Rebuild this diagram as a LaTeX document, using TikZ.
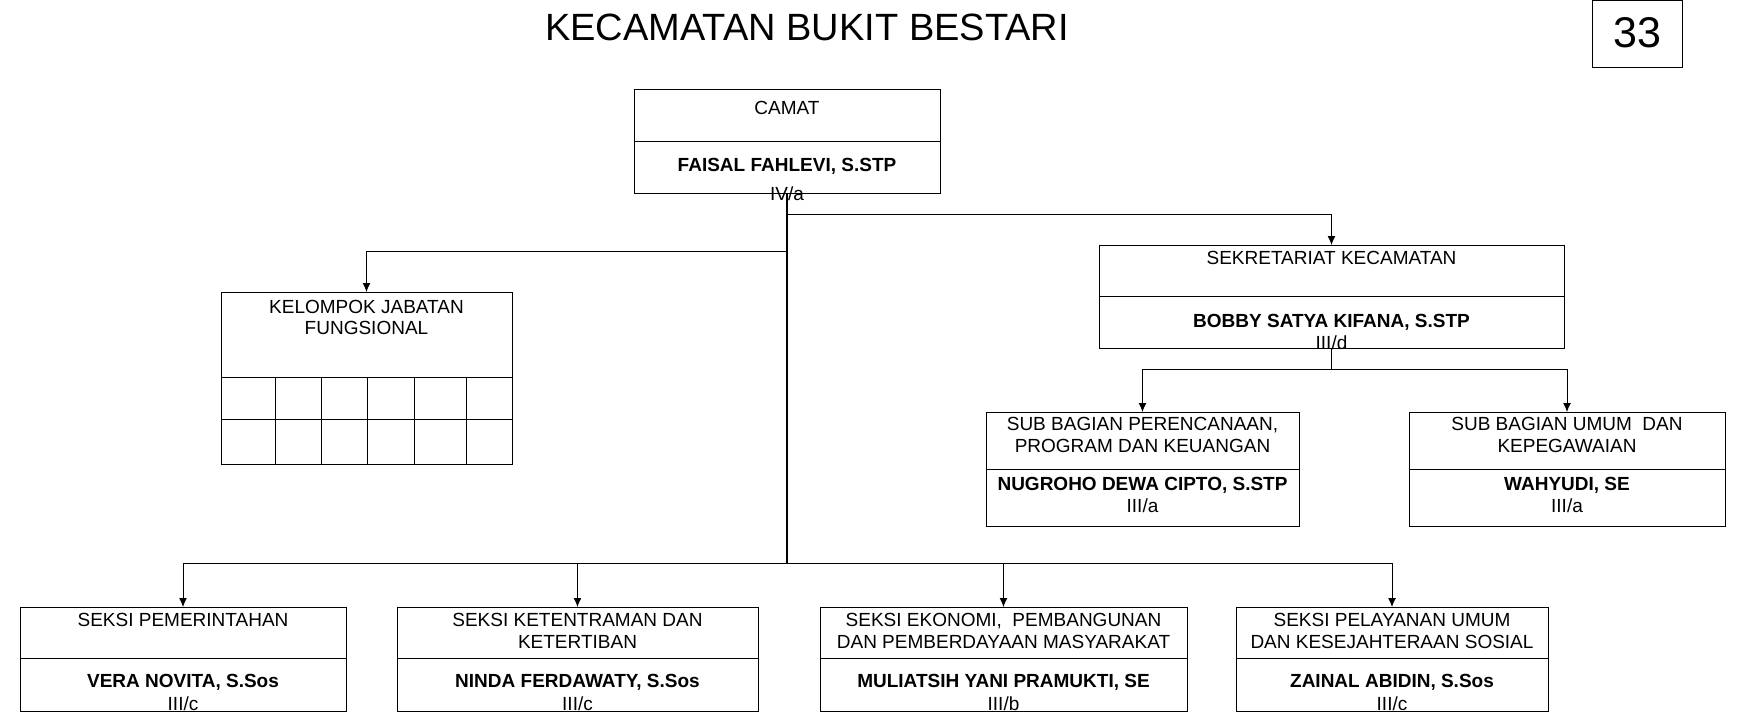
\documentclass[tikz,border=0pt]{standalone}
\usepackage{fontspec}
\setmainfont{Liberation Sans}
\usetikzlibrary{positioning,arrows.meta}
\begin{document}
\begin{tikzpicture}[x=1pt,y=-1pt,
    kotak/.style={draw,line width=1pt,inner sep=0pt,outer sep=0pt,anchor=north west},
    teks/.style={font=\fontsize{19}{21.5}\selectfont,inner sep=0pt,anchor=base,align=center},
    nama/.style={teks,font=\fontsize{19}{21.5}\selectfont\bfseries},
    garis/.style={line width=1pt},
    panah/.style={garis,-{Latex[length=9pt,width=8pt]}}]
\useasboundingbox (0,0) rectangle (1740,728);
\node [font=\fontsize{38}{40}\selectfont,inner sep=0pt,anchor=base] (judul) at (807,40) {KECAMATAN BUKIT BESTARI};
\node [kotak,minimum width=90pt,minimum height=67pt] (hal) at (1592,0.5) {};
\node [font=\fontsize{43}{45}\selectfont,inner sep=0pt,anchor=base] (nohal) at (1637,47) {33};
% camat
\node [kotak,minimum width=306pt,minimum height=52pt] (camat) at (634,89) {};
\node [kotak,minimum width=306pt,minimum height=52pt,below=0pt of camat] (camatnm) {};
\node [teks] (tcamat) at (787,114) {CAMAT};
\node [nama] (ncamat) at (787,171.5) {FAISAL FAHLEVI, S.STP};
\node [teks] (gcamat) at (787,200) {IV/a};
% jabatan fungsional
\node [kotak,minimum width=291pt,minimum height=85pt] (jafung) at (221,292) {};
\node [teks] (tjafung) at (366.5,334.5) {KELOMPOK JABATAN\\FUNGSIONAL};
\draw [garis] (jafung.south west) rectangle ++(291,87);
\draw [garis] ([yshift=-42pt]jafung.south west) -- ++(291,0);
\foreach \x in {54,100,146,193,245}
    \draw [garis] ([xshift=\x pt]jafung.south west) -- ++(0,87);
% sekretariat
\node [kotak,minimum width=465pt,minimum height=51pt] (sekcam) at (1099,245) {};
\node [kotak,minimum width=465pt,minimum height=52pt,below=0pt of sekcam] (sekcamnm) {};
\node [teks] (tsekcam) at (1331.5,264) {SEKRETARIAT KECAMATAN};
\node [nama] (nsekcam) at (1331.5,327.5) {BOBBY SATYA KIFANA, S.STP};
\node [teks] (gsekcam) at (1331.5,349.5) {III/d};
% sub bagian
\node [kotak,minimum width=313pt,minimum height=57pt] (subprog) at (986,412) {};
\node [kotak,minimum width=313pt,minimum height=57pt,below=0pt of subprog] (subprognm) {};
\node [teks] (tsubprog) at (1142.5,452) {SUB BAGIAN PERENCANAAN,\\PROGRAM DAN KEUANGAN};
\node [nama] (nsubprog) at (1142.5,490.5) {NUGROHO DEWA CIPTO, S.STP};
\node [teks] (gsubprog) at (1142.5,512.5) {III/a};
\node [kotak,minimum width=316pt,minimum height=57pt] (subumum) at (1409,412) {};
\node [kotak,minimum width=316pt,minimum height=57pt,below=0pt of subumum] (subumumnm) {};
\node [teks] (tsubumum) at (1567,452) {SUB BAGIAN UMUM~ DAN\\KEPEGAWAIAN};
\node [nama] (nsubumum) at (1567,490.5) {WAHYUDI, SE};
\node [teks] (gsubumum) at (1567,512.5) {III/a};
% seksi
\node [kotak,minimum width=326pt,minimum height=51pt] (pem) at (20,607) {};
\node [kotak,minimum width=326pt,minimum height=53pt,below=0pt of pem] (pemnm) {};
\node [teks] (tpem) at (183,626.5) {SEKSI PEMERINTAHAN};
\node [nama] (npem) at (183,687.5) {VERA NOVITA, S.Sos};
\node [teks] (gpem) at (183,710.5) {III/c};
\node [kotak,minimum width=361pt,minimum height=51pt] (trantib) at (397,607) {};
\node [kotak,minimum width=361pt,minimum height=53pt,below=0pt of trantib] (trantibnm) {};
\node [teks] (ttrantib) at (577.5,648) {SEKSI KETENTRAMAN DAN\\KETERTIBAN};
\node [nama] (ntrantib) at (577.5,687.5) {NINDA FERDAWATY, S.Sos};
\node [teks] (gtrantib) at (577.5,710.5) {III/c};
\node [kotak,minimum width=367pt,minimum height=51pt] (ekbang) at (820,607) {};
\node [kotak,minimum width=367pt,minimum height=53pt,below=0pt of ekbang] (ekbangnm) {};
\node [teks] (tekbang) at (1003.5,648) {SEKSI EKONOMI,~ PEMBANGUNAN\\DAN PEMBERDAYAAN MASYARAKAT};
\node [nama] (nekbang) at (1003.5,687.5) {MULIATSIH YANI PRAMUKTI, SE};
\node [teks] (gekbang) at (1003.5,710.5) {III/b};
\node [kotak,minimum width=312pt,minimum height=51pt] (kesos) at (1236,607) {};
\node [kotak,minimum width=312pt,minimum height=53pt,below=0pt of kesos] (kesosnm) {};
\node [teks] (tkesos) at (1392,648) {SEKSI PELAYANAN UMUM\\DAN KESEJAHTERAAN SOSIAL};
\node [nama] (nkesos) at (1392,687.5) {ZAINAL ABIDIN, S.Sos};
\node [teks] (gkesos) at (1392,710.5) {III/c};
% garis
\coordinate (cab1) at (787,214);
\coordinate (cab2) at (787,251);
\coordinate (simpul) at (787,563);
\draw [line width=2pt] (camatnm.south) -- (simpul);
\draw [panah] (cab1) -| (sekcam.north);
\draw [panah] (cab2) -| (jafung.north);
\foreach \s in {pem,trantib,ekbang,kesos}
    \draw [panah] (simpul) -| (\s.north);
\draw [garis] (sekcamnm.south) -- ++(0,21) coordinate (cab3);
\draw [panah] (cab3) -| (subprog.north);
\draw [panah] (cab3) -| (subumum.north);
\end{tikzpicture}
\end{document}
